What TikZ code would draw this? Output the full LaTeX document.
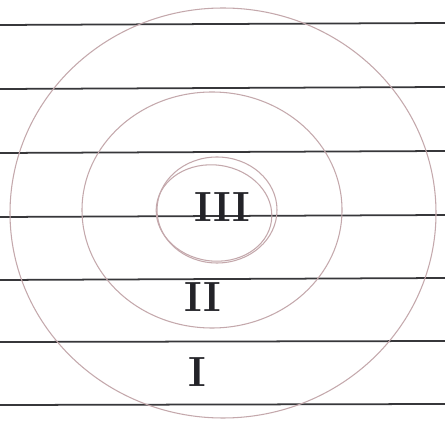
\documentclass[tikz,border=0pt]{standalone}
\usepackage{tikz}
\usetikzlibrary{positioning}
\definecolor{ruleline}{RGB}{55, 55, 58}
\definecolor{pencilpink}{RGB}{196, 168, 172}
\definecolor{inkgray}{RGB}{35, 35, 40}
\tikzset{
  paperline/.style={draw=ruleline, line width=1pt},
  ring/.style={draw=pencilpink, line width=0.6pt},
  numeral/.style={text=inkgray, font=\fontsize{24}{24}\selectfont\bfseries, inner sep=0pt}
}
\begin{document}
\begin{tikzpicture}[x=0.02cm, y=-0.02cm]
    \useasboundingbox (0,0) rectangle (445,421);
    \fill[white] (0,0) rectangle (445,421);

    % --- RULED PAPER ---
    \foreach \ya/\yb in {25/23, 89/87, 153/151, 217/215, 280/278, 342/341, 405/404}
        \draw[paperline] (0,\ya) -- (445,\yb);

    % --- RINGS ---
    % outer ring
    \draw[ring] (223,213) ellipse [x radius=213, y radius=205];
    % middle ring
    \draw[ring] (212,210) ellipse [x radius=130, y radius=118];
    % inner ring (drawn twice)
    \draw[ring] (217,210) ellipse [x radius=60, y radius=53];
    \draw[ring, rotate around={-8:(214,213)}] (214,213) ellipse [x radius=58, y radius=48];

    % --- ZONE NUMBERS ---
    \node[numeral] (zone3) at (222,207) {III};
    \node[numeral] (zone2) at (203,297) {II};
    \node[numeral] (zone1) at (197,372) {I};
\end{tikzpicture}
\end{document}
